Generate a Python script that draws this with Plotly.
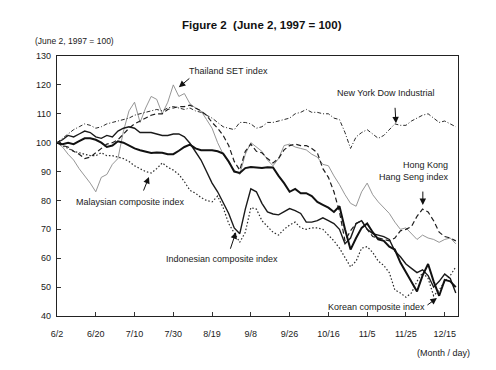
import plotly.graph_objects as go

# trading-day index (every 2nd trading day from June 2, 1997)
day = list(range(0, 145, 2))

tick_days = [0, 14, 28, 42, 56, 70, 84, 98, 112, 126, 140]
tick_labels = ["6/2", "6/20", "7/10", "7/30", "8/19", "9/8", "9/26",
               "10/16", "11/5", "11/25", "12/15"]

thailand = [100, 98.5, 96, 94, 91, 88.5, 86, 83, 88, 89,
            92.5, 94.5, 104, 111, 114, 107, 112, 116, 115, 110,
            114, 120, 116, 117, 113.5, 112, 111, 108, 105, 100,
            96, 93, 90.5, 89, 96, 100, 98.5, 97, 94, 92,
            94.5, 99, 99.5, 98.5, 98, 97.5, 96, 95, 92.5, 92,
            88.5, 85.5, 82, 79, 78, 83, 86, 82, 79.5, 77.5,
            75.5, 72.5, 70, 70.5, 68.5, 66.5, 68, 67, 66.5, 65.5,
            66.5, 67, 65]

newyork = [100, 101.5, 103, 104.5, 105.5, 106.5, 106, 105, 105.5, 106.5,
           107, 107.5, 108, 108.5, 109.5, 110, 110.5, 111, 111.5, 111,
           112, 112.5, 112, 111.5, 112, 111, 110.5, 109.5, 108.5, 107,
           105.5, 105, 104.5, 107, 107, 106.5, 105, 105.5, 107, 107,
           107.5, 108, 108.5, 110, 110.5, 111.5, 110.5, 110.5, 110, 110,
           108.5, 108, 103.5, 98, 102, 103.5, 104.5, 103, 101.5, 102.5,
           104.5, 106.5, 106, 106, 107.5, 108.5, 109.5, 110, 108.5, 107,
           107.5, 106.5, 105.5]

hongkong = [100, 99, 98.5, 97, 96, 94.5, 95, 96.5, 98, 99.5,
            100, 101, 103, 105, 106.5, 107.5, 108.5, 109.5, 110, 110,
            111.5, 112, 112.5, 112.5, 113, 112, 111, 109.5, 107, 105,
            102.5, 99, 93.5, 90.5, 97, 99.5, 97, 96.5, 94.5, 93,
            94.5, 97.5, 99, 99.5, 99, 99, 98, 96.5, 91, 88,
            83, 76, 66, 69.5, 72, 73, 70, 67.5, 67, 66.5,
            66, 67, 69.5, 70, 71, 74.5, 77, 76, 73, 69,
            67.5, 67, 66]

malaysia = [100, 99, 98, 97, 96.5, 96, 95.5, 95.5, 96.5, 95.5,
            95.5, 95, 94.5, 93.5, 92, 91, 90, 89.5, 91, 93,
            91.5, 90.5, 89, 86.5, 83.5, 82.5, 81, 80, 79.5, 81.5,
            77.5, 72, 68.5, 65.5, 69, 77.5, 77, 73, 71, 69,
            68, 70, 71.5, 72.5, 70.5, 70, 70.5, 70.5, 70, 68,
            66, 63.5, 60, 57, 59, 63.5, 64, 62, 59, 57.5,
            55, 49, 48, 46.5, 48, 52, 55, 53, 47, 49,
            52, 54, 57]

indonesia = [100, 101, 102.5, 102, 103, 104, 103.5, 102, 101.5, 102.5,
             102, 104, 105, 105.5, 105, 103.5, 103.5, 103.5, 103, 102.5,
             102.5, 103, 103, 102, 99.8, 97, 94, 90, 86, 83,
             79.5, 75.5, 70.5, 68.5, 77, 84, 83, 79, 76, 75.3,
             75, 76, 77.2, 76.5, 75.5, 72.5, 72.5, 73, 74, 73,
             72, 70, 65, 67, 72, 73, 70, 68.5, 68, 67.5,
             66.5, 62.5, 60.5, 58, 56.5, 55, 56, 54, 50, 52,
             54.5, 53, 48]

korea = [100, 99.5, 100, 99.5, 100.5, 101.5, 101.5, 101, 100, 98.5,
         99, 100.5, 100, 99, 98, 97.4, 96.8, 96.4, 96.6, 96.5,
         96, 96, 97.2, 98.5, 99.3, 98, 97.4, 97.4, 97.4, 97,
         96.2, 93.5, 90, 89.5, 91.2, 91.6, 91.3, 91.2, 91.5, 91.4,
         88.5, 86, 83, 84, 82.5, 82.5, 81.5, 79.5, 78.5, 77.5,
         76, 78, 70, 63, 67, 70.5, 72, 69, 66.5, 66,
         64, 63, 58.5, 55, 52, 48.5, 54, 58, 52, 47,
         52.5, 52, 50]

FONT = "Liberation Sans, Arial, Helvetica, sans-serif"

fig = go.Figure()

def add(y, color, width, dash):
    fig.add_trace(go.Scatter(x=day, y=y, mode="lines",
                             line=dict(color=color, width=width, dash=dash),
                             showlegend=False, hoverinfo="skip"))

add(thailand, "#8a8a8a", 0.9, "solid")
add(newyork, "#2a2a2a", 1.0, "4px,2px,1px,2px")
add(hongkong, "#1e1e1e", 1.2, "5px,3px")
add(malaysia, "#2a2a2a", 1.2, "1.5px,2px")
add(indonesia, "#1a1a1a", 1.4, "solid")
add(korea, "#111111", 2.0, "solid")

labels = [
    ("Thailand SET index", 61.9, 124.8),
    ("New York Dow Industrial", 118.8, 117.2),
    ("Malaysian composite index", 26.5, 79.5),
    ("Indonesian composite index", 59.6, 59.9),
    ("Korean composite index", 115.2, 43.2),
]
for txt, x, y in labels:
    fig.add_annotation(x=x, y=y, xref="x", yref="y", text=txt, showarrow=False,
                       xanchor="center", yanchor="middle",
                       font=dict(family=FONT, size=9, color="#1a1a1a"))
fig.add_annotation(x=142.2, y=90.3, xref="x", yref="y", xanchor="right",
                   yanchor="middle",
                   text="Hong Kong<br>Hang Seng index", align="right",
                   showarrow=False,
                   font=dict(family=FONT, size=9, color="#1a1a1a"))

arrows = [
    (44.0, 119.2, 12, -10),
    (122.4, 106.7, -1, -17),
    (132.1, 78.4, 0, -15),
    (33.2, 88.1, -6, 15),
    (64.6, 69.0, -6, 18),
    (137.2, 46.2, -11, 8),
]
for x, y, ax, ay in arrows:
    fig.add_annotation(x=x, y=y, xref="x", yref="y", text="", showarrow=True,
                       ax=ax, ay=ay, arrowhead=2, arrowsize=1.3, arrowwidth=1,
                       arrowcolor="#111111", standoff=0)

fig.add_annotation(x=0.511, y=1.119, xref="paper", yref="paper",
                   xanchor="center", yanchor="middle",
                   text="<b>Figure 2\u00a0 (June 2, 1997 = 100)</b>", showarrow=False,
                   font=dict(family=FONT, size=11.5, color="#111111"))
fig.add_annotation(x=-0.06, y=1.059, xref="paper", yref="paper",
                   xanchor="left", yanchor="middle",
                   text="(June 2, 1997 = 100)", showarrow=False,
                   font=dict(family=FONT, size=8.5, color="#1a1a1a"))
fig.add_annotation(x=0.9626, y=-0.142, xref="paper", yref="paper",
                   xanchor="center", yanchor="middle",
                   text="(Month / day)", showarrow=False,
                   font=dict(family=FONT, size=9, color="#1a1a1a"))

fig.update_xaxes(range=[0, 144.8], tickvals=tick_days, ticktext=tick_labels,
                 ticks="inside", ticklen=4, tickcolor="#333",
                 ticklabelstandoff=9,
                 showline=True, mirror=True, linecolor="#222", linewidth=1.3,
                 showgrid=False, zeroline=False,
                 tickfont=dict(family=FONT, size=9, color="#1a1a1a"))
fig.update_yaxes(range=[40, 130], dtick=10, tick0=40,
                 ticks="inside", ticklen=4, tickcolor="#333",
                 ticklabelstandoff=3,
                 showline=True, mirror=True, linecolor="#222", linewidth=1.3,
                 showgrid=False, zeroline=False,
                 tickfont=dict(family=FONT, size=9, color="#1a1a1a"))

fig.update_layout(width=496, height=370, autosize=False,
                  margin=dict(l=57, r=38, t=56, b=54),
                  paper_bgcolor="white", plot_bgcolor="white")

fig.write_html("out.html")
